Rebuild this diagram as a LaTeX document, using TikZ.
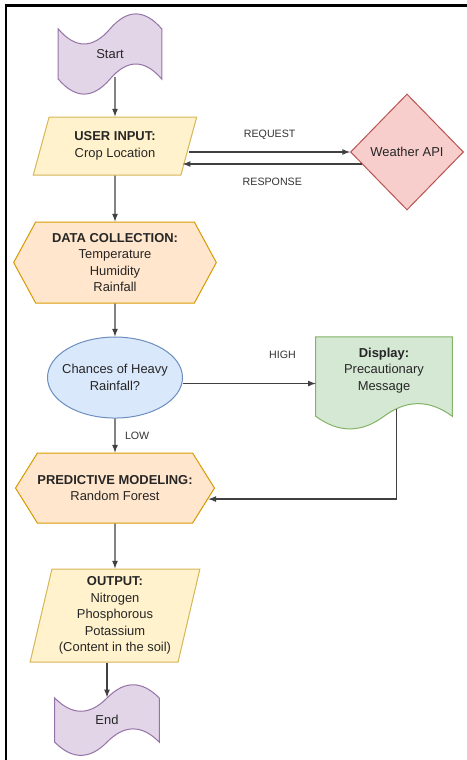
\documentclass[tikz,border=0pt]{standalone}
\usepackage{fontspec}
\setmainfont{Liberation Sans}
\usetikzlibrary{positioning}
\usetikzlibrary{calc,backgrounds}
\usetikzlibrary{shapes.geometric,shapes.symbols}

\definecolor{lilacfill}{HTML}{E1D5E7}
\definecolor{lilacline}{HTML}{9673A6}
\definecolor{creamfill}{HTML}{FFF2CC}
\definecolor{creamline}{HTML}{D6B656}
\definecolor{peachfill}{HTML}{FFE6CC}
\definecolor{peachline}{HTML}{D79B00}
\definecolor{skyfill}{HTML}{DAE8FC}
\definecolor{skyline}{HTML}{6C8EBF}
\definecolor{mintfill}{HTML}{D5E8D4}
\definecolor{mintline}{HTML}{82B366}
\definecolor{rosefill}{HTML}{F8CECC}
\definecolor{roseline}{HTML}{B85450}

% wavy outline behind a node: #1 node, #2 style, #3 wave depth (fraction of height)
\newcommand{\wavetape}[3]{%
  \begin{pgfonlayer}{background}
    \draw[#2] let \p1=(#1.north west), \p2=(#1.south east),
      \n1={\x2-\x1}, \n2={#3*(\y1-\y2)} in
      (\x1,{\y1-0.5*\n2})
      .. controls ({\x1+\n1/6},{\y1-1.1*\n2}) and ({\x1+\n1/3},{\y1-1.1*\n2}) .. ({\x1+\n1/2},{\y1-0.5*\n2})
      .. controls ({\x1+2*\n1/3},{\y1+0.1*\n2}) and ({\x1+5*\n1/6},{\y1+0.1*\n2}) .. (\x2,{\y1-0.5*\n2})
      -- (\x2,{\y2+0.5*\n2})
      .. controls ({\x1+5*\n1/6},{\y2+1.1*\n2}) and ({\x1+2*\n1/3},{\y2+1.1*\n2}) .. ({\x1+\n1/2},{\y2+0.5*\n2})
      .. controls ({\x1+\n1/3},{\y2-0.1*\n2}) and ({\x1+\n1/6},{\y2-0.1*\n2}) .. (\x1,{\y2+0.5*\n2})
      -- cycle;
  \end{pgfonlayer}}
% same, flat top
\newcommand{\wavedoc}[3]{%
  \begin{pgfonlayer}{background}
    \draw[#2] let \p1=(#1.north west), \p2=(#1.south east),
      \n1={\x2-\x1}, \n2={#3*(\y1-\y2)} in
      (\x1,\y1) -- (\x2,\y1) -- (\x2,{\y2+0.5*\n2})
      .. controls ({\x1+5*\n1/6},{\y2+1.1*\n2}) and ({\x1+2*\n1/3},{\y2+1.1*\n2}) .. ({\x1+\n1/2},{\y2+0.5*\n2})
      .. controls ({\x1+\n1/3},{\y2-0.1*\n2}) and ({\x1+\n1/6},{\y2-0.1*\n2}) .. (\x1,{\y2+0.5*\n2})
      -- cycle;
  \end{pgfonlayer}}

\begin{document}
\begin{tikzpicture}[
  x=0.75pt, y=-0.75pt,
  on grid,
  font=\fontsize{9.7}{12.4}\selectfont,
  box/.style={draw, align=center, text=black!85, line width=0.75pt, inner sep=0pt},
  plain/.style={align=center, text=black!85, inner sep=0pt},
  lilac/.style={fill=lilacfill, draw=lilacline, line width=0.75pt},
  mint/.style={fill=mintfill, draw=mintline, line width=0.75pt},
  iobox/.style={box, trapezium, trapezium stretches=true, fill=creamfill, draw=creamline},
  hexbox/.style={box, signal, signal to=east and west, fill=peachfill, draw=peachline},
  arr/.style={-latex, line width=1pt, draw=black!75},
  lbl/.style={font=\fontsize{8}{10}\selectfont, text=black!80, inner sep=0pt}
]
\useasboundingbox (0,0) rectangle (467,760);
\draw[line width=1.6pt] (467,5.5) -- (6,5.5) -- (6,760);

\node[plain, minimum width=77.25pt, minimum height=62.25pt] (start) at (110,54) {Start};
\wavetape{start}{lilac}{0.4}
\node[iobox, trapezium left angle=71, trapezium right angle=109,
  minimum width=123pt, minimum height=43.5pt,
  below=69pt of start, xshift=3.75pt] (input) {\textbf{USER INPUT:}\\Crop Location};
\node[box, diamond, fill=rosefill, draw=roseline, minimum width=84.75pt, minimum height=87pt,
  right=219pt of input, yshift=-4.5pt] (api) {Weather API};
\node[hexbox, signal pointer angle=123, minimum width=152pt, minimum height=60.75pt,
  below=87.4pt of input] (data) {\textbf{DATA COLLECTION:}\\Temperature\\Humidity\\Rainfall};
\node[box, ellipse, inner xsep=-8pt, fill=skyfill, draw=skyline, minimum width=101.25pt, minimum height=60.75pt,
  below=86.25pt of data] (ell) {Chances of Heavy\\Rainfall?};
\node[plain, text depth=22pt, minimum width=102pt, minimum height=69.75pt,
  right=201.75pt of ell, yshift=-4.5pt] (disp) {\textbf{Display:}\\Precautionary\\Message};
\wavedoc{disp}{mint}{0.3}
\node[hexbox, signal pointer angle=116, minimum width=145.5pt, minimum height=52.5pt,
  below=82.9pt of ell] (pred) {\textbf{PREDICTIVE MODELING:}\\Random Forest};
\node[iobox, trapezium left angle=76, trapezium right angle=104,
  minimum width=127.5pt, minimum height=69.75pt,
  below=95.6pt of pred] (out) {\textbf{OUTPUT:}\\Nitrogen\\Phosphorous\\Potassium\\(Content in the soil)};
\node[plain, minimum height=54.75pt, minimum width=78pt,
  below=78.4pt of out, xshift=-6pt] (end) {End};
\wavetape{end}{lilac}{0.4}

\coordinate (resp) at ([shift={(9pt,-9pt)}]api.west);

\draw[arr] ([shift={(3.75pt,14pt)}]start.south) -- (input.north);
\draw[arr] (input.east |- api.west) -- (api.west)
  node[lbl, midway, yshift=13pt] {REQUEST};
\draw[arr] (resp) -- ($(resp -| input.east)+(-5pt,0)$)
  node[lbl, midway, yshift=-13.5pt] {RESPONSE};
\draw[arr] (input) -- (data);
\draw[arr] (data) -- (ell);
\draw[arr] (ell.east |- disp.west) -- (disp.west)
  node[lbl, pos=0.75, yshift=21.4pt] {HIGH};
\draw[arr] (ell) -- (pred)
  node[lbl, midway, right=7pt] {LOW};
\draw[arr] ([shift={(9.4pt,16pt)}]disp.south) |- ([shift={(-5pt,-8.25pt)}]pred.east);
\draw[arr] (pred) -- (out);
\draw[arr] (end.north |- out.south) -- ([yshift=-10.5pt]end.north);

\end{tikzpicture}
\end{document}
